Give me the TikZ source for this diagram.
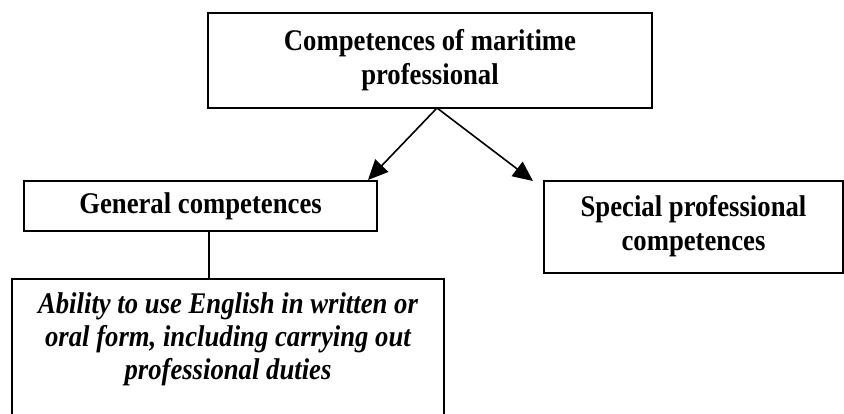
\documentclass[tikz,border=0pt]{standalone}
\usepackage{fontspec}
\setmainfont{Liberation Serif}[FakeStretch=0.89]
\usetikzlibrary{arrows.meta}
\begin{document}
\begin{tikzpicture}[x=1pt,y=-1pt,
  box/.style={draw=black, line width=1.6pt, inner sep=0pt, align=center},
  btext/.style={font=\fontsize{30}{34}\selectfont\bfseries, align=center},
  itext/.style={font=\fontsize{30}{33}\selectfont\bfseries\itshape, align=center},
  conn/.style={line width=1.4pt},
  arr/.style={line width=1.6pt, -{Triangle[length=20pt,width=18pt]}}]
\useasboundingbox (0,0) rectangle (844,414);
\clip (0,0) rectangle (844,414);
\node[box, minimum width=444pt, minimum height=95pt] (top) at (430,60.5) {};
\node[btext] (toptext) at (430,60) {Competences of maritime\\professional};
\node[box, minimum width=353pt, minimum height=50pt] (gen) at (200.5,206) {};
\node[btext] (gentext) at (200.5,206) {General competences};
\node[box, minimum width=299pt, minimum height=92pt] (spec) at (693.5,227) {};
\node[btext] (spectext) at (693.5,226) {Special professional\\competences};
\node[box, minimum width=432pt, minimum height=170pt, anchor=north] (abil) at (228,278) {};
\node[itext] (abiltext) at (228,339) {Ability to use English in written or\\oral form, including carrying out\\professional duties};
\coordinate (apex) at (437,108);
\coordinate (gtip) at (368,180);
\coordinate (stip) at (533,181);
\draw[arr] (apex) -- (gtip);
\draw[arr] (apex) -- (stip);
\coordinate (gbot) at (209,231);
\coordinate (atop) at (209,278);
\draw[conn] (gbot) -- (atop);
\end{tikzpicture}
\end{document}
